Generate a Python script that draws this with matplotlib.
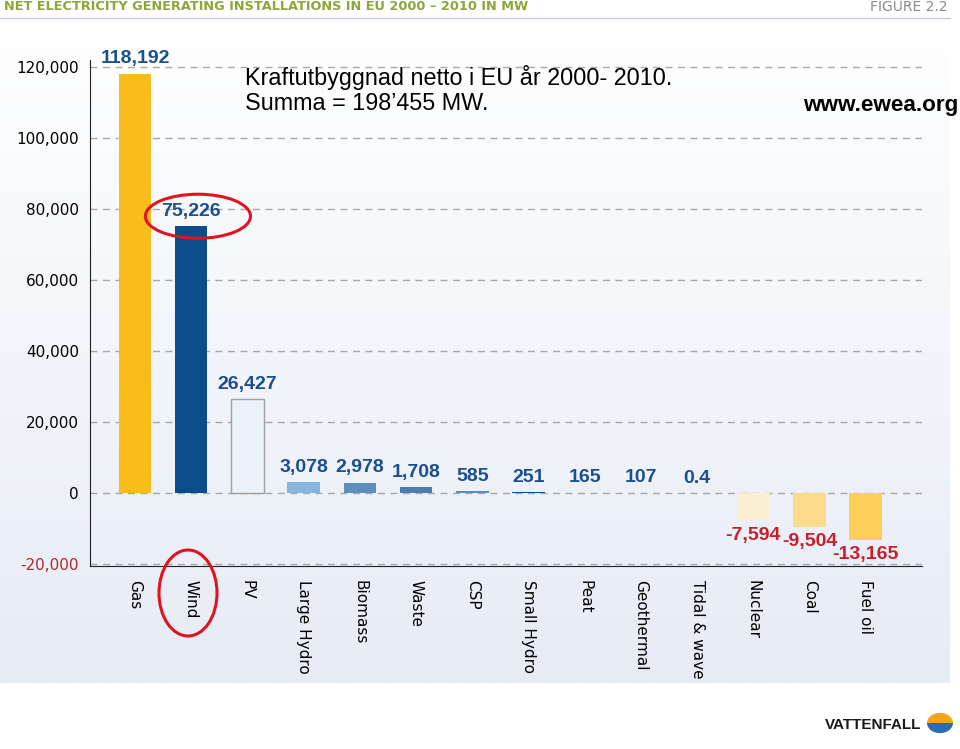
import numpy as np
import matplotlib.pyplot as plt
from matplotlib.colors import LinearSegmentedColormap
from matplotlib.patches import Ellipse, Wedge

# Data (MW, net installed 2000-2010)
categories = ['Gas', 'Wind', 'PV', 'Large Hydro', 'Biomass', 'Waste', 'CSP',
              'Small Hydro', 'Peat', 'Geothermal', 'Tidal & wave', 'Nuclear',
              'Coal', 'Fuel oil']
values = [118192, 75226, 26427, 3078, 2978, 1708, 585, 251, 165, 107, 0.4,
          -7594, -9504, -13165]
labels = ['118,192', '75,226', '26,427', '3,078', '2,978', '1,708', '585',
          '251', '165', '107', '0.4', '-7,594', '-9,504', '-13,165']
colors = ['#F9BC1C', '#0B4C8A', '#EAF1F9', '#86B6E0', '#5F8EBC', '#4E7DB0',
          '#5B8CC0', '#0B4C8A', '#6D8FB5', '#6D8FB5', '#6D8FB5', '#FBEFD2',
          '#FCDB8C', '#FDCF5A']
yticks = [-20000, 0, 20000, 40000, 60000, 80000, 100000, 120000]

fig = plt.figure(figsize=(9.6, 7.49), dpi=100)
fig.patch.set_facecolor('white')

# panel background with vertical gradient
bg = fig.add_axes([0, 66 / 749, 950 / 960, 663 / 749], zorder=-10)
cmap = LinearSegmentedColormap.from_list('bg', ['#E6EBF5', '#FFFFFF'])
bg.imshow(np.linspace(0, 1, 256).reshape(-1, 1), aspect='auto', cmap=cmap,
          origin='lower', extent=[0, 1, 0, 1])
bg.axis('off')

ax = fig.add_axes([90 / 960, 183 / 749, 832 / 960, 506 / 749])
ax.set_facecolor('none')

x = list(range(len(categories)))
for i, (v, c) in enumerate(zip(values, colors)):
    ec = '#A0A0A0' if categories[i] == 'PV' else 'none'
    ax.bar(i, v, width=0.58, color=c, edgecolor=ec, linewidth=1, zorder=3)

for i, (v, lab) in enumerate(zip(values, labels)):
    if v >= 0:
        ax.text(i, v + 1800, lab, ha='center', va='bottom', fontsize=14,
                fontweight='bold', color='#1B4F8D', zorder=4,
                family='Liberation Sans')
    else:
        ax.text(i, v - 1800, lab, ha='center', va='top', fontsize=14,
                fontweight='bold', color='#C8202A', zorder=4,
                family='Liberation Sans')

ax.set_xlim(-0.8, 14.0)
ax.set_ylim(-20500, 122000)
ax.set_yticks(yticks)
ax.set_yticklabels([f'{t:,}' for t in yticks], fontsize=11)
ax.get_yticklabels()[0].set_color('#B02A2A')
ax.set_xticks(x)
ax.set_xticklabels(categories, rotation=-90, fontsize=11, va='top')
ax.tick_params(length=0, pad=8)
ax.tick_params(axis='x', pad=10)
ax.grid(axis='y', linestyle=(0, (5, 4)), color='#A8A8A8', linewidth=1, zorder=1)
for s in ['top', 'right']:
    ax.spines[s].set_visible(False)
ax.spines['left'].set_color('#222222')
ax.spines['bottom'].set_color('#222222')

# red highlight ellipses
ax.add_patch(Ellipse((1.12, 78000), 1.87, 12400, fill=False, edgecolor='#E0141E',
                     linewidth=2.2, clip_on=False, zorder=5))
fig.patches.append(Ellipse((188 / 960, 156 / 749), 58 / 960, 86 / 749,
                           transform=fig.transFigure, fill=False,
                           edgecolor='#E0141E', linewidth=2.2, zorder=5))

# header
fig.text(4 / 960, 742 / 749, 'NET ELECTRICITY GENERATING INSTALLATIONS IN EU 2000 – 2010 IN MW',
         fontsize=9.3, fontweight='bold', color='#8BA63A', va='center')
fig.text(948 / 960, 742 / 749, 'FIGURE 2.2', fontsize=10, color='#8A8A8A',
         va='center', ha='right')
fig.add_artist(plt.Line2D([0, 950 / 960], [731 / 749, 731 / 749],
                          color='#C8CCD4', linewidth=1))

# overlay titles
fig.text(245 / 960, 684 / 749, 'Kraftutbyggnad netto i EU år 2000- 2010.\nSumma = 198’455 MW.',
         fontsize=16.8, va='top', ha='left', family='Liberation Sans',
         linespacing=1.1)
fig.text(958 / 960, 643 / 749, 'www.ewea.org', fontsize=16.2, fontweight='bold',
         va='center', ha='right', family='Liberation Sans')

# Vattenfall logo
fig.text(825 / 960, 24 / 749, 'VATTENFALL', fontsize=11, fontweight='bold',
         color='#1A1A1A', va='center', family='Liberation Sans')
fig.patches.append(Wedge((940 / 960, 26 / 749), 13 / 960, 0, 180,
                         transform=fig.transFigure, facecolor='#F4A51C',
                         edgecolor='none'))
fig.patches.append(Wedge((940 / 960, 26 / 749), 13 / 960, 180, 360,
                         transform=fig.transFigure, facecolor='#2A6DB5',
                         edgecolor='none'))

fig.savefig('out.png', dpi=100)
